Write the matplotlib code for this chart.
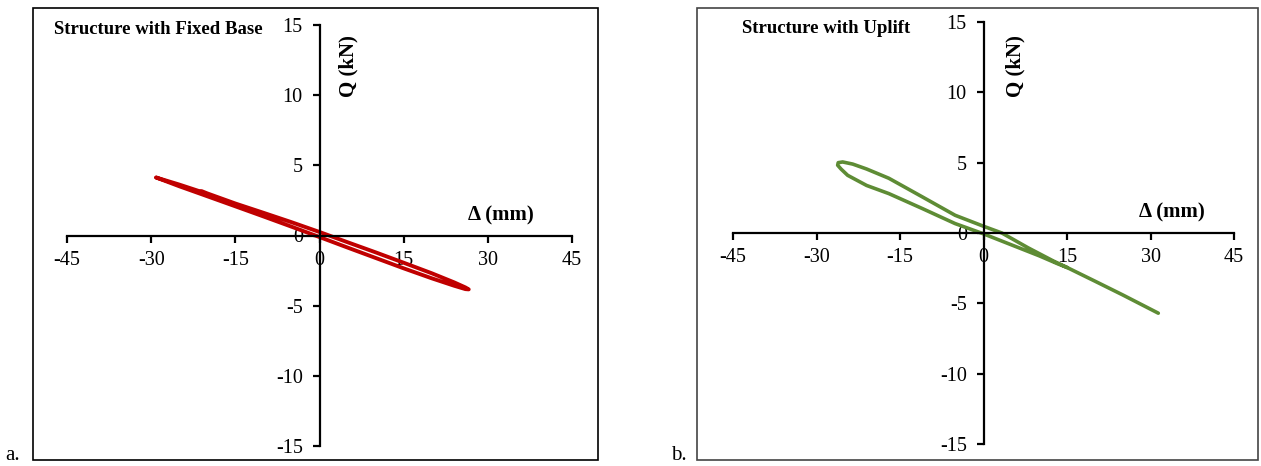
import matplotlib
matplotlib.use("Agg")
import matplotlib.pyplot as plt
from matplotlib.patches import Rectangle

plt.rcParams['font.family'] = ['Liberation Serif', 'DejaVu Serif']
plt.rcParams['axes.unicode_minus'] = False

# ---- data ----
ticks_x = [-45, -30, -15, 0, 15, 30, 45]
ticks_q = [-15, -10, -5, 0, 5, 10, 15]

# a. fixed base: upper branch (left -> right), then lower branch (right -> left)
fixed_x = [-29.1, -25.0, -21.5, -21.0, -20.0, -15.0, -10.0, -5.0, 0.0, 5.0, 10.0, 15.0, 20.0, 24.0, 26.0, 26.6,
           26.0, 24.0, 20.0, 15.0, 10.0, 5.0, 0.0, -5.0, -10.0, -15.0, -21.0, -25.0, -29.1]
fixed_q = [4.13, 3.63, 3.17, 3.16, 3.00, 2.28, 1.62, 0.95, 0.25, -0.48, -1.20, -1.94, -2.69, -3.34, -3.70, -3.84,
           -3.82, -3.58, -3.05, -2.34, -1.60, -0.86, -0.11, 0.63, 1.36, 2.08, 2.94, 3.51, 4.13]

# b. uplift: one path, from the far end back over the top branch, round the tip, down the lower one
uplift_x = [31.4, 25.0, 20.0, 15.0, 12.5, 8.0, 3.3, 0.0, -5.1, -11.0, -17.0, -21.0, -23.5, -25.3, -26.1, -26.2,
            -25.6, -24.4, -21.0, -17.0, -11.0, -5.1, -0.9, 0.0, 5.0, 10.0, 13.4, 15.0]
uplift_q = [-5.70, -4.40, -3.42, -2.45, -1.98, -1.05, 0.0, 0.48, 1.26, 2.57, 3.89, 4.55, 4.90, 5.05, 5.00, 4.82,
            4.55, 4.10, 3.38, 2.80, 1.74, 0.67, 0.07, -0.06, -0.84, -1.62, -2.20, -2.45]

W, H = 1261, 466
fig = plt.figure(figsize=(W / 100, H / 100), dpi=100)


def px_axes(x0, x1, y_top, y_bot):
    # axes placed by pixel positions of the -45/45 and 15/-15 ticks
    return fig.add_axes([x0 / W, 1 - y_bot / H, (x1 - x0) / W, (y_bot - y_top) / H])


def setup(ax):
    ax.set_xlim(-45, 45)
    ax.set_ylim(-15, 15)
    ax.spines['left'].set_position('zero')
    ax.spines['bottom'].set_position('zero')
    ax.spines['top'].set_visible(False)
    ax.spines['right'].set_visible(False)
    for s in ('left', 'bottom'):
        ax.spines[s].set_linewidth(1.6)
    ax.set_xticks(ticks_x)
    ax.set_yticks(ticks_q)
    ax.tick_params(direction='out', length=5, width=1.6, labelsize=14.5)
    ax.tick_params(axis='x', pad=6)
    ax.tick_params(axis='y', pad=7)
    ax.patch.set_alpha(0)


ax1 = px_axes(67, 572, 25, 446)
setup(ax1)
ax1.plot(fixed_x, fixed_q, color='#C00000', lw=2.8, solid_capstyle='round', solid_joinstyle='round')
ax1.text(-47.4, 14.68, 'Structure with Fixed Base', fontsize=13.5, fontweight='bold', va='center')
ax1.text(5.2, 12.07, 'Q (kN)', rotation=90, fontsize=15, fontweight='bold', ha='center', va='center')
ax1.text(32.4, 1.45, 'Δ (mm)', fontsize=15, fontweight='bold', ha='center', va='center')

ax2 = px_axes(733, 1234, 22, 444)
setup(ax2)
ax2.plot(uplift_x, uplift_q, color='#5E8C35', lw=2.6, solid_capstyle='round', solid_joinstyle='round')
ax2.text(-43.4, 14.55, 'Structure with Uplift', fontsize=13.5, fontweight='bold', va='center')
ax2.text(5.8, 11.9, 'Q (kN)', rotation=90, fontsize=15, fontweight='bold', ha='center', va='center')
ax2.text(33.9, 1.44, 'Δ (mm)', fontsize=15, fontweight='bold', ha='center', va='center')

# panel frames and letters
fig.add_artist(Rectangle((33 / W, 1 - 460 / H), 565 / W, 452 / H, transform=fig.transFigure,
                         fill=False, lw=1.2, edgecolor='black'))
fig.add_artist(Rectangle((697 / W, 1 - 460 / H), 561 / W, 452 / H, transform=fig.transFigure,
                         fill=False, lw=1.2, edgecolor='#444444'))
fig.text(5 / W, 1 - 455 / H, 'a.', fontsize=15, va='center')
fig.text(671 / W, 1 - 455 / H, 'b.', fontsize=15, va='center')

fig.savefig('out.png', dpi=100)
